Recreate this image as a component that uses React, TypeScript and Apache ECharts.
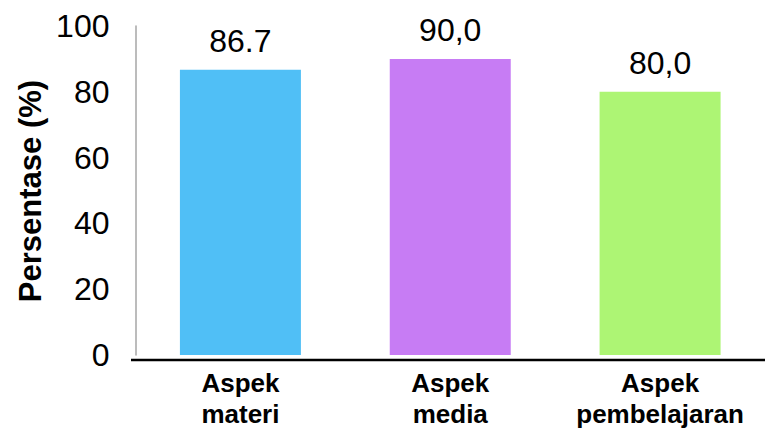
import React, { useEffect, useRef } from "react";
import * as echarts from "echarts";

// Category names (two lines each) and percentage scores
const categories = ["Aspek\nmateri", "Aspek\nmedia", "Aspek\npembelajaran"];
const values = [86.7, 90.0, 80.0];
const valueLabels = ["86.7", "90,0", "80,0"];
const barColors = ["#50BFF6", "#C77CF4", "#ADF574"];
const yTicks = [0, 20, 40, 60, 80, 100];
const yTitle = "Persentase (%)";

const FONT = "'Liberation Sans', Arial, sans-serif";

export default function App() {
  const ref = useRef<HTMLDivElement>(null);

  useEffect(() => {
    if (!ref.current) return;
    const chart = echarts.init(ref.current, undefined, { renderer: "svg" });
    chart.setOption({
      animation: false,
      backgroundColor: "#ffffff",
      grid: { left: 135.5, top: 26, width: 634, bottom: 75 },
      xAxis: {
        type: "category",
        data: categories,
        axisLine: { show: false },
        axisTick: { show: false },
        axisLabel: {
          color: "#000000",
          fontFamily: FONT,
          fontWeight: "bold",
          fontSize: 26,
          lineHeight: 31,
          margin: 12,
          interval: 0,
        },
      },
      yAxis: {
        type: "value",
        min: yTicks[0],
        max: yTicks[yTicks.length - 1],
        interval: 20,
        axisLine: { show: true, lineStyle: { color: "#a6a6a6", width: 1.5 } },
        axisTick: { show: false },
        splitLine: { show: false },
        axisLabel: {
          color: "#000000",
          fontFamily: FONT,
          fontSize: 32,
          margin: 26,
        },
      },
      graphic: [
        {
          // baseline drawn slightly below the bars, across the full width
          type: "line",
          shape: { x1: 131, y1: 360, x2: 765, y2: 360 },
          style: { stroke: "#000000", lineWidth: 2.5 },
        },
        {
          type: "text",
          x: 30,
          y: 191,
          rotation: Math.PI / 2,
          style: {
            text: yTitle,
            fill: "#000000",
            font: `bold 31px ${FONT}`,
            textAlign: "center",
            textVerticalAlign: "middle",
          },
        },
      ],
      series: [
        {
          type: "bar",
          barWidth: 121,
          data: values.map((v, i) => ({
            value: v,
            itemStyle: { color: barColors[i] },
          })),
          label: {
            show: true,
            position: "top",
            distance: 13,
            color: "#000000",
            fontFamily: FONT,
            fontSize: 32,
            formatter: (p: any) => valueLabels[p.dataIndex],
          },
        },
      ],
    });
    return () => chart.dispose();
  }, []);

  return (
    <div
      ref={ref}
      style={{ position: "fixed", left: 0, top: 0, width: 765, height: 430 }}
    />
  );
}
